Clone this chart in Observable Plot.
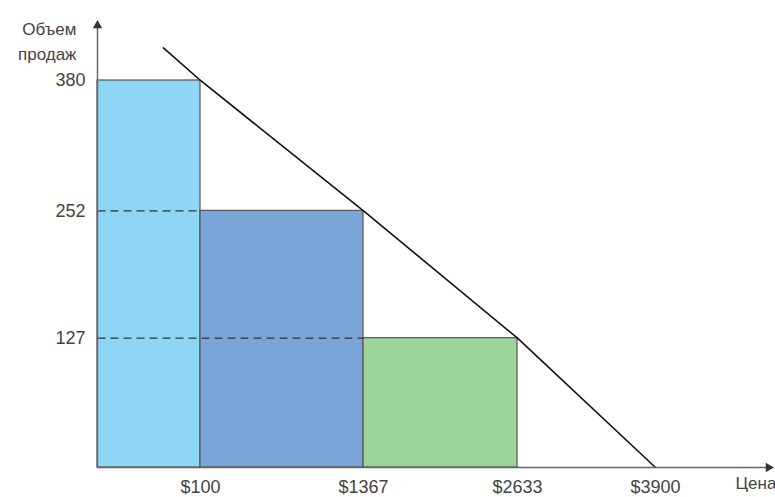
<!DOCTYPE html>
<html><head><meta charset="utf-8">
<script src="https://cdn.jsdelivr.net/npm/d3@7"></script>
<script src="https://cdn.jsdelivr.net/npm/@observablehq/plot@0.6"></script>
<style>body{margin:0;background:#fff}</style>
</head><body><div id="chart"></div>
<script>
// Data
const priceTicks = [100, 1367, 2633, 3900];
const priceLabels = ["$100", "$1367", "$2633", "$3900"];
const barStart = [0, 100, 1367];
const barEnd = [100, 1367, 2633];
const barVolume = [380, 252, 127];
const barColors = ["#8ed6f6", "#7ba5d8", "#9dd49a"];
const volumeTicks = [380, 252, 127];
const demandPrice = [64, 100, 1367, 2633, 3900];
const demandVolume = [412, 380, 252, 127, 0];
const dashVolume = [252, 127];
const dashEnd = [100, 1367];

const bars = barVolume.map((v, i) => ({x1: barStart[i], x2: barEnd[i], y: v, c: barColors[i]}));
const demand = demandPrice.map((p, i) => ({x: p, y: demandVolume[i]}));
const dashes = dashVolume.map((v, i) => ({x1: 0, x2: dashEnd[i], y: v}));

// schematic (non-uniform) price axis, as in the original drawing
const warp = d3.scaleLinear().domain([0, 100, 1367, 2633, 3900]).range([0, 103, 266, 420, 558]);

const font = "Liberation Sans, Arial, sans-serif";
const chart = Plot.plot({
  width: 775, height: 497,
  marginLeft: 97, marginRight: 7, marginTop: 25, marginBottom: 30,
  style: {fontFamily: font, fontSize: "18px", color: "#444", background: "#fff"},
  x: {type: "linear", transform: warp, domain: [0, 671], range: [97, 768], axis: null},
  y: {domain: [0, 434], axis: null},
  marks: [
    Plot.rectY(bars, {x1: "x1", x2: "x2", y1: 0, y2: "y", fill: "c", stroke: "#555", strokeWidth: 1.2}),
    Plot.link(dashes, {x1: "x1", x2: "x2", y1: "y", y2: "y", stroke: "#333", strokeWidth: 1.3, strokeDasharray: "8,5"}),
    Plot.line(demand, {x: "x", y: "y", stroke: "#111", strokeWidth: 1.6}),
    Plot.ruleY([0], {stroke: "#666", strokeWidth: 1.5}),
    Plot.ruleX([0], {stroke: "#666", strokeWidth: 1.5}),
    Plot.dot([0], {frameAnchor: "bottom-right", symbol: "triangle", r: 3.5, fill: "#333", stroke: null, rotate: 90}),
    Plot.dot([0], {frameAnchor: "top-left", symbol: "triangle", r: 3.5, fill: "#333", stroke: null}),
    Plot.text(priceTicks, {x: d => d, y: 0, text: (d, i) => priceLabels[i], dy: 20, fill: "#444", fontSize: 18}),
    Plot.text(volumeTicks, {x: 0, y: d => d, text: d => String(d), textAnchor: "end", dx: -12, dy: 0, fill: "#444", fontSize: 18}),
    Plot.text(["Цена"], {frameAnchor: "bottom-right", textAnchor: "start", dx: -33, dy: 21, fill: "#444", fontSize: 17}),
    Plot.text(["Объем\nпродаж"], {frameAnchor: "top-left", textAnchor: "end", dx: -21, dy: -9, lineHeight: 1.5, fill: "#444", fontSize: 17})
  ]
});
document.getElementById("chart").append(chart);
</script>
</body></html>
